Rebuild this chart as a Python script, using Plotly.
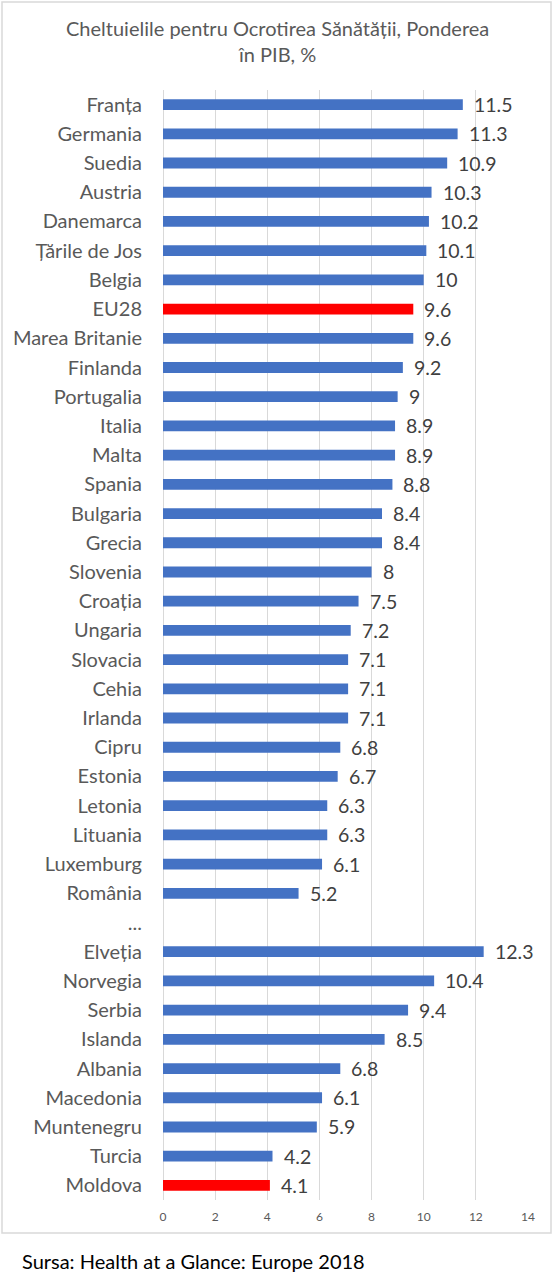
import plotly.graph_objects as go

countries = ["Franța", "Germania", "Suedia", "Austria", "Danemarca", "Țările de Jos",
             "Belgia", "EU28", "Marea Britanie", "Finlanda", "Portugalia", "Italia",
             "Malta", "Spania", "Bulgaria", "Grecia", "Slovenia", "Croația", "Ungaria",
             "Slovacia", "Cehia", "Irlanda", "Cipru", "Estonia", "Letonia", "Lituania",
             "Luxemburg", "România", "...", "Elveția", "Norvegia", "Serbia", "Islanda",
             "Albania", "Macedonia", "Muntenegru", "Turcia", "Moldova"]
values = [11.5, 11.3, 10.9, 10.3, 10.2, 10.1, 10, 9.6, 9.6, 9.2, 9, 8.9, 8.9, 8.8,
          8.4, 8.4, 8, 7.5, 7.2, 7.1, 7.1, 7.1, 6.8, 6.7, 6.3, 6.3, 6.1, 5.2, None,
          12.3, 10.4, 9.4, 8.5, 6.8, 6.1, 5.9, 4.2, 4.1]
highlight = ["EU28", "Moldova"]
x_ticks = [0, 2, 4, 6, 8, 10, 12, 14]

title_text = "Cheltuielile pentru Ocrotirea Sănătății, Ponderea<br>în PIB, %"
source_text = "Sursa: Health at a Glance: Europe 2018"

BLUE = "#4472C4"
RED = "#FF0000"
FONT = "Lato"

colors = [RED if c in highlight else BLUE for c in countries]

fig = go.Figure()
fig.add_trace(go.Bar(
    x=values, y=countries, orientation="h",
    marker=dict(color=colors, line=dict(width=0)),
    width=0.37, hoverinfo="skip",
))

annotations = []
for c, v in zip(countries, values):
    if v is None:
        continue
    annotations.append(dict(
        x=v, y=c, xref="x", yref="y", text=f"{v:g}", showarrow=False,
        xanchor="left", yanchor="middle", xshift=9,
        font=dict(family=FONT, size=19.5, color="#404040"),
    ))

W, H = 554, 1280
L, R, T, B = 163, 26, 90, 80
pw, ph = W - L - R, H - T - B

def px_x(p):
    return (p - L) / pw

def px_y(p):
    return (H - B - p) / ph

annotations.append(dict(
    x=px_x(277), y=px_y(41), xref="paper", yref="paper", text=title_text,
    showarrow=False, xanchor="center", yanchor="middle", align="center",
    font=dict(family=FONT, size=20, color="#595959"),
))
annotations.append(dict(
    x=px_x(20), y=px_y(1261), xref="paper", yref="paper", text=source_text,
    showarrow=False, xanchor="left", yanchor="middle",
    font=dict(family=FONT, size=20, color="#000000"),
))

fig.update_layout(
    width=W, height=H,
    margin=dict(l=L, r=R, t=T, b=B, pad=0),
    paper_bgcolor="white", plot_bgcolor="white",
    showlegend=False,
    xaxis=dict(range=[0, 14], tickvals=x_ticks, showgrid=True, gridcolor="#D9D9D9",
               gridwidth=1, zeroline=True, zerolinecolor="#D9D9D9", zerolinewidth=1,
               showline=False, ticks="", ticklabelstandoff=8,
               tickfont=dict(family=FONT, size=12, color="#595959"), fixedrange=True),
    yaxis=dict(categoryorder="array", categoryarray=countries, autorange="reversed",
               showgrid=False, zeroline=False, showline=False, ticks="",
               ticklabelstandoff=20,
               tickfont=dict(family=FONT, size=20, color="#595959"), fixedrange=True),
    annotations=annotations,
    shapes=[dict(type="rect", xref="paper", yref="paper",
                 x0=px_x(2), x1=px_x(551), y0=px_y(1233), y1=px_y(2),
                 line=dict(color="#D9D9D9", width=1.5), fillcolor="rgba(0,0,0,0)",
                 layer="below")],
)

fig.write_html("out.html")
